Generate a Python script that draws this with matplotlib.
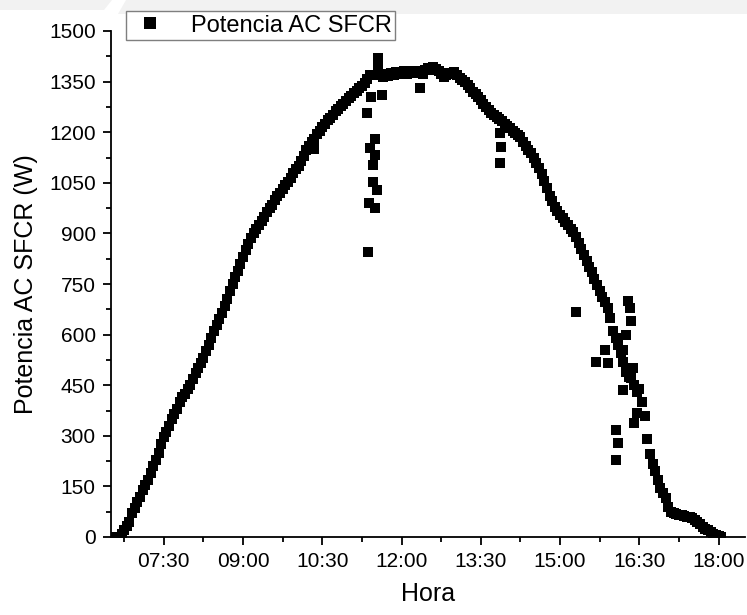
import numpy as np
import pandas as pd
import matplotlib
matplotlib.use("Agg")
import matplotlib.pyplot as plt
import matplotlib.dates as mdates
from matplotlib.patches import Polygon

plt.rcParams['font.family'] = ['Liberation Sans', 'DejaVu Sans']

nan = np.nan

# main curve, one reading every 3 minutes starting 06:36
main_start = "06:36"
main_step_min = 3
main_power = [
    0, 0, 8, 22, 32, 45, 70, 85, 105, 120,                  # 06:36
    140, 155, 170, 190, 210, 228, 250, 275, 295, 312,       # 07:06
    330, 350, 365, 380, 400, 415, 425, 440, 450, 468,       # 07:36
    485, 500, 515, 530, 550, 570, 590, 610, 628, 645,       # 08:06
    665, 685, 705, 730, 750, 770, 790, 810, 830, 850,       # 08:36
    868, 885, 900, 912, 925, 938, 950, 962, 975, 985,       # 09:06
    998, 1010, 1020, 1032, 1042, 1052, 1065, 1078, 1090, 1100,  # 09:36
    1115, 1130, 1148, 1160, 1170, 1180, 1195, 1205, 1215, 1225,  # 10:06
    1235, 1242, 1252, 1262, 1270, 1278, 1285, 1292, 1300, 1308,  # 10:36
    1315, 1322, 1330, 1336, 1345, 1358, 1370, nan, nan, 1390,    # 11:06
    1370, 1365, 1372, 1368, 1375, 1370, 1378, 1372, 1375, 1380,  # 11:36
    1374, 1378, 1382, 1375, 1380, 1330, 1372, 1385, 1390, 1385,  # 12:06
    1392, 1388, 1380, 1372, 1365, 1370, 1375, 1372, 1378, 1370,  # 12:36
    1362, 1355, 1348, 1340, 1330, 1320, 1312, 1305, 1295, 1285,  # 13:06
    1275, 1265, 1258, 1250, 1245, 1240, 1232, 1225, 1218, 1212,  # 13:36
    1205, 1198, 1192, 1185, 1172, 1160, 1148, 1138, 1125, 1110,  # 14:06
    1095, 1075, 1055, 1035, 1012, 995, 978, 965, 955, 945,       # 14:36
    935, 925, 912, 905, 890, 872, 855, 835, 818, 800,            # 15:06
    785, 765, 748, 730, 712, 698, 680, 650, 610, 590,            # 15:36
    570, 545, 520, 490, 475, 470, 450, 430, 440, 400,            # 16:06
    360, 290, 245, 215, 195, 170, 145, 130, 115, 90,             # 16:36
    75, 70, 68, 65, 66, 62, 60, 58, 55, 50,                      # 17:06
    45, 38, 30, 25, 20, 15, 10, 6, 3, 0,                         # 17:36
]

# scattered readings (cloud passages)
out_time = ["10:21", "11:21", "11:22", "11:23", "11:24", "11:25", "11:27",
            "11:28", "11:30", "11:30", "11:30", "11:32", "11:33", "11:38",
            "13:52", "13:52", "13:53", "15:18", "15:41", "15:51", "15:54",
            "16:04", "16:06", "16:04", "16:11", "16:12", "16:15", "16:24",
            "16:27", "16:23", "16:17", "16:19", "16:20"]
out_power = [1150, 1256, 846, 989, 1152, 1305, 1103,
             1053, 1179, 1132, 974, 1029, 1419, 1310,
             1197, 1108, 1157, 666, 520, 554, 515,
             317, 278, 228, 436, 554, 599, 337,
             367, 500, 700, 680, 640]

day = "2000-01-01 "
main_time = pd.date_range(day + main_start, periods=len(main_power),
                          freq=f"{main_step_min}min")
out_t = pd.to_datetime([day + t for t in out_time])

fig = plt.figure(figsize=(7.47, 6.15), dpi=100)

# faint watermark band along the top edge (figure pixels, origin top-left)
for pts in ([(0, 0), (112, 0), (104, 10), (0, 10)],
            [(126, 0), (747, 0), (747, 14), (118, 14)]):
    xy = [(x / 747, 1 - y / 615) for x, y in pts]
    fig.patches.append(Polygon(xy, closed=True, transform=fig.transFigure,
                               facecolor='#f2f2f2', edgecolor='none',
                               zorder=-5))

ax = fig.add_axes([111 / 747, 78 / 615, 634 / 747, 506 / 615])
ax.patch.set_alpha(0)

ax.plot(main_time, main_power, 's', color='black', markersize=7.2,
        markeredgewidth=0, label='Potencia AC SFCR')
ax.plot(out_t, out_power, 's', color='black', markersize=7.2,
        markeredgewidth=0)

ax.set_xlim(pd.Timestamp(day + "06:30"), pd.Timestamp(day + "18:30"))
ax.set_ylim(0, 1500)

major = pd.date_range(day + "07:30", day + "18:00", freq="90min")
minor = pd.date_range(day + "06:45", day + "18:30", freq="90min")
ax.set_xticks(mdates.date2num(major))
ax.set_xticks(mdates.date2num(minor), minor=True)
ax.xaxis.set_major_formatter(mdates.DateFormatter('%H:%M'))
ax.set_yticks(np.arange(0, 1501, 150))
ax.set_yticks(np.arange(75, 1500, 150), minor=True)

for s in ['top', 'right']:
    ax.spines[s].set_visible(False)
for s in ['left', 'bottom']:
    ax.spines[s].set_linewidth(1.3)

ax.tick_params(which='major', direction='out', length=6, width=1.3,
               labelsize=15, pad=5)
ax.tick_params(which='minor', direction='out', length=3.5, width=1.3)

ax.set_xlabel('Hora', fontsize=18, labelpad=8)
ax.set_ylabel('Potencia AC SFCR (W)', fontsize=18, labelpad=8)

leg = ax.legend(loc='upper left', bbox_to_anchor=(0.0237, 1.0395),
                borderaxespad=0, fontsize=17, fancybox=False,
                edgecolor='#7f7f7f', borderpad=0.15, handlelength=1.7,
                handletextpad=0.9, markerscale=1.2, framealpha=1)
leg.get_frame().set_linewidth(1.0)
leg.set_zorder(10)

fig.savefig('out.png', dpi=100)
